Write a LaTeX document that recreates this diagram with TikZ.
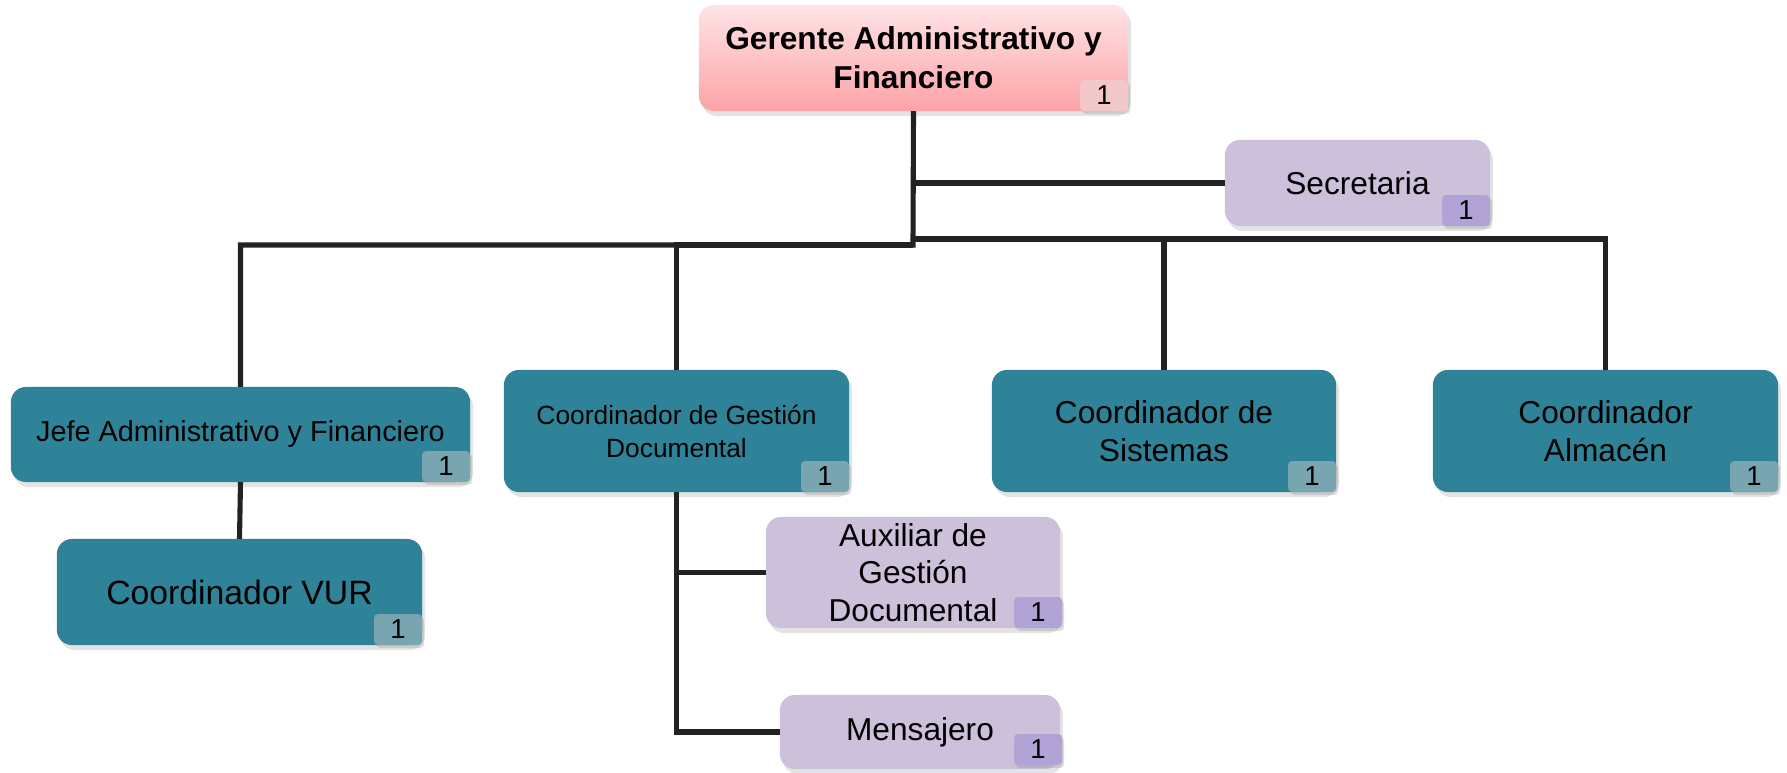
\documentclass[tikz,border=0pt]{standalone}
\usepackage{fontspec}
\setmainfont{Liberation Sans}
\usetikzlibrary{positioning}
\usetikzlibrary{shadows}

\definecolor{tealbox}{RGB}{47,131,152}
\definecolor{tealtag}{RGB}{120,165,176}
\definecolor{lilacbox}{RGB}{204,192,218}
\definecolor{lilactag}{RGB}{177,163,214}
\definecolor{pinktop}{RGB}{255,228,230}
\definecolor{pinkbot}{RGB}{252,163,167}
\definecolor{pinktag}{RGB}{242,200,202}
\definecolor{linkgray}{RGB}{34,34,34}

\begin{document}
\begin{tikzpicture}[x=0.01cm, y=-0.01cm,
                          boxnode/.style={rectangle, rounded corners=0.15cm, inner sep=0pt, outer sep=0pt, align=center, font=\fontsize{9}{10.7}\selectfont, drop shadow={shadow xshift=0.03cm, shadow yshift=-0.05cm, opacity=0.22}},
                          gerentenode/.style={boxnode, top color=pinktop, bottom color=pinkbot, font=\bfseries\fontsize{9}{11.1}\selectfont},
                          tealnode/.style={boxnode, fill=tealbox},
                          lilacnode/.style={boxnode, fill=lilacbox},
                          tagnode/.style={rectangle, rounded corners=0.04cm, inner sep=0pt, outer sep=0pt, minimum width=0.48cm, minimum height=0.31cm, font=\fontsize{7.8}{9}\selectfont, drop shadow={shadow xshift=0.02cm, shadow yshift=-0.03cm, opacity=0.25}},
                          link/.style={draw=linkgray, line width=1.45pt},
                      ]
                      \useasboundingbox (0,0) rectangle (1787,772);

                      %Nodes
                      \node[gerentenode, minimum width=4.29cm, minimum height=1.06cm]   (gerente)    at (913.5,58)    {Gerente Administrativo y\\Financiero};
                      \node[lilacnode, minimum width=2.65cm, minimum height=0.86cm]     (secretaria) at (1357.5,183)  {Secretaria};
                      \node[tealnode, minimum width=4.59cm, minimum height=0.95cm, font=\fontsize{8.2}{10}\selectfont] (jefe) at (240.5,434.5) {Jefe Administrativo y Financiero};
                      \node[tealnode, minimum width=3.65cm, minimum height=1.06cm, font=\fontsize{9.6}{11}\selectfont] (vur) at (239.5,592) {Coordinador VUR};
                      \node[tealnode, minimum width=3.45cm, minimum height=1.22cm, font=\fontsize{7.5}{9.4}\selectfont] (gestion) at (676.5,431) {Coordinador de Gestión\\Documental};
                      \node[tealnode, minimum width=3.44cm, minimum height=1.22cm]      (sistemas)   at (1164,431)    {Coordinador de\\Sistemas};
                      \node[tealnode, minimum width=3.45cm, minimum height=1.22cm]      (almacen)    at (1605.5,431)  {Coordinador\\Almacén};
                      \node[lilacnode, minimum width=2.94cm, minimum height=1.11cm]     (auxiliar)   at (913,572.5)   {Auxiliar de\\Gestión\\Documental};
                      \node[lilacnode, minimum width=2.80cm, minimum height=0.74cm]     (mensajero)  at (920,732)     {Mensajero};

                      %Tags
                      \node[tagnode, fill=pinktag]  (gerente_tag)    [above left=0pt and 0pt of gerente.south east]    {1};
                      \node[tagnode, fill=lilactag] (secretaria_tag) [above left=0pt and 0pt of secretaria.south east] {1};
                      \node[tagnode, fill=tealtag]  (jefe_tag)       [above left=0pt and 0pt of jefe.south east]       {1};
                      \node[tagnode, fill=tealtag]  (vur_tag)        [above left=0pt and 0pt of vur.south east]        {1};
                      \node[tagnode, fill=tealtag]  (gestion_tag)    [above left=0pt and 0pt of gestion.south east]    {1};
                      \node[tagnode, fill=tealtag]  (sistemas_tag)   [above left=0pt and 0pt of sistemas.south east]   {1};
                      \node[tagnode, fill=tealtag]  (almacen_tag)    [above left=0pt and 0pt of almacen.south east]    {1};
                      \node[tagnode, fill=lilactag] (auxiliar_tag)   [above left=0pt and -0.02cm of auxiliar.south east]   {1};
                      \node[tagnode, fill=lilactag] (mensajero_tag)  [above left=0.04cm and -0.02cm of mensajero.south east] {1};

                      %Lines
                      \coordinate (leftjoin)  at (913,245);
                      \coordinate (rightjoin) at (913,239);
                      \draw[link] (gerente.south) -- (leftjoin) -| (jefe.north);
                      \draw[link] (leftjoin) -| (gestion.north);
                      \draw[link] (gerente.south |- rightjoin) -| (almacen.north);
                      \draw[link] (rightjoin) -| (sistemas.north);
                      \draw[link] (gerente.south |- secretaria.west) -- (secretaria.west);
                      \draw[link] (jefe.south) -- (vur.north);
                      \draw[link] (gestion.south) |- (mensajero.west);
                      \draw[link] (gestion.south |- auxiliar.west) -- (auxiliar.west);
                  \end{tikzpicture}
\end{document}
